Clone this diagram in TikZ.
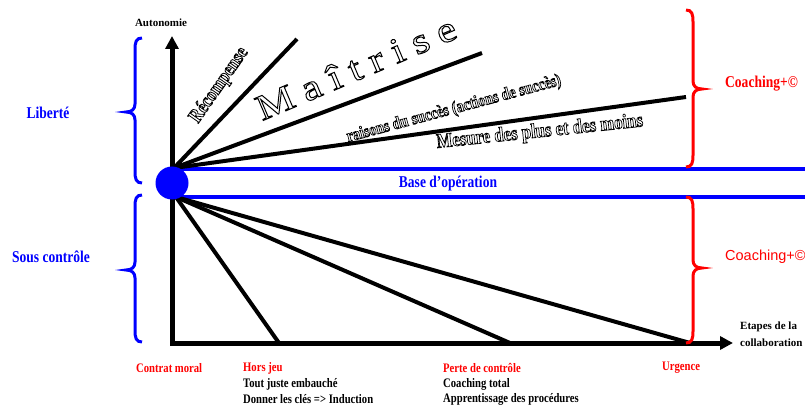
\documentclass[tikz,border=0pt]{standalone}
\usepackage{fontspec}
\setmainfont{Liberation Serif}
\newfontfamily\condserif{Liberation Serif}[FakeStretch=0.82]
\newfontfamily\wideserif{Liberation Serif}[FakeStretch=1.2]
\newfontfamily\sansfam{Liberation Sans}
\usetikzlibrary{arrows.meta}
\newcommand\outl[2][0.8]{%
  \special{pdf:literal direct q 1 Tr #1 w}#2\special{pdf:literal direct Q}}
\newcommand\bracepath[5]{% #1 x of body, #2 top, #3 tip y, #4 bottom, #5 direction (+1 tip right, -1 tip left)
  ({#1-7*#5},#2) .. controls ({#1-1*#5},#2) and (#1,{#2+4}) .. (#1,{#2+12})
  -- (#1,{#3-8}) .. controls (#1,{#3-3}) and ({#1+3*#5},#3) .. ({#1+9*#5},#3)
  .. controls ({#1+3*#5},#3) and (#1,{#3+3}) .. (#1,{#3+8})
  -- (#1,{#4-12}) .. controls (#1,{#4-4}) and ({#1-1*#5},#4) .. ({#1-7*#5},#4)}
\begin{document}
\begin{tikzpicture}[x=1pt,y=-1pt,
  fan/.style={line width=4pt},
  axisline/.style={line width=5pt,{Triangle[length=13pt,width=13pt]}-{Triangle[length=13pt,width=13pt]}},
  bluebar/.style={draw=blue,line width=4.5pt},
  bbrace/.style={draw=blue,line width=3pt},
  rbrace/.style={draw=red,line width=3pt},
  big/.style={inner sep=0pt,font=\condserif\bfseries\fontsize{16.5}{18}\selectfont},
  lab/.style={inner sep=0pt,anchor=west,font=\condserif\bfseries\fontsize{13}{15}\selectfont},
  rottext/.style={inner sep=0pt,anchor=base west}
]
\useasboundingbox (0,0) rectangle (805,406);

% coordinates
\coordinate (corner) at (172,343);
\coordinate (vtop) at (172,36);
\coordinate (hend) at (733,343);
\coordinate (U) at (174,168);
\coordinate (u1) at (297,39);
\coordinate (u2) at (482,53);
\coordinate (u3) at (686,97);
\coordinate (L) at (176,197);
\coordinate (d1) at (279,343);
\coordinate (d2) at (510,343);
\coordinate (d3) at (690,343);
\coordinate (b1s) at (178,169);
\coordinate (b1e) at (805,169);
\coordinate (b2s) at (178,197);
\coordinate (b2e) at (805,197);

% blue bars
\draw[bluebar] (b1s) -- (b1e);
\draw[bluebar] (b2s) -- (b2e);

% fan lines
\draw[fan] (U) -- (u1);
\draw[fan] (U) -- (u2);
\draw[fan] (U) -- (u3);
\draw[fan] (L) -- (d1);
\draw[fan] (L) -- (d2);
\draw[fan] (L) -- (d3);

% axes
\draw[axisline] (vtop) -- (corner) -- (hend);

% hub
\node[circle,fill=blue,inner sep=0pt,minimum size=33pt] (hub) at (172,183) {};

% braces
\draw[bbrace] \bracepath{135}{38}{112}{183}{-1};
\draw[bbrace] \bracepath{135}{195}{270}{342}{-1};
\draw[rbrace] \bracepath{693}{10}{89}{167}{1};
\draw[rbrace] \bracepath{693}{197}{268}{343}{1};

% side labels
\node[big,text=blue] (lib) at (48,113) {Liberté};
\node[big,text=blue] (sc) at (51,257) {Sous contrôle};
\node[big,text=blue] (base) at (448,184) {Base d’opération};
\node[big,text=red,anchor=west] (coach1) at (725,84) {Coaching+©};
\node[inner sep=0pt,anchor=west,text=red,font=\sansfam\fontsize{14.5}{16}\selectfont] (coach2) at (725,257) {Coaching+©};

% axis labels
\node[inner sep=0pt,font=\bfseries\fontsize{11}{13}\selectfont] (auto) at (161,23) {Autonomie};
\node[inner sep=0pt,anchor=west,align=left,font=\bfseries\fontsize{11}{17}\selectfont] (etapes) at (740,334) {Etapes de la\\collaboration};

% bottom labels
\node[lab,text=red] (cm) at (136,368) {Contrat moral};
\node[lab,text=red] (hj) at (243,368) {Hors jeu};
\node[lab] (tj) at (243,384) {Tout juste embauché};
\node[lab] (dc) at (243,399) {Donner les clés => Induction};
\node[lab,text=red] (pc) at (443,368) {Perte de contrôle};
\node[lab] (ct) at (443,384) {Coaching total};
\node[lab] (ap) at (443,399) {Apprentissage des procédures};
\node[lab,text=red] (ur) at (662,368) {Urgence};

% rotated outlined texts
\node[rottext,rotate=55,font=\condserif\bfseries\fontsize{20}{22}\selectfont] (rec) at (198,124) {\outl[0.8]{Récompense}};
\node[rottext,rotate=23,font=\wideserif\fontsize{36}{40}\selectfont] (mai) at (262,121) {\outl[1]{M\kern10pt a\kern10pt î\kern10pt t\kern10pt r\kern10pt i\kern10pt s\kern10pt e}};
\node[rottext,rotate=15,font=\condserif\bfseries\fontsize{17.5}{19}\selectfont] (rai) at (348,142) {\outl[0.7]{raisons du succès (actions de succès)}};
\node[rottext,rotate=6,font=\condserif\bfseries\fontsize{20.5}{22}\selectfont] (mes) at (437,148) {\outl[0.7]{Mesure des plus et des moins}};
\end{tikzpicture}
\end{document}
